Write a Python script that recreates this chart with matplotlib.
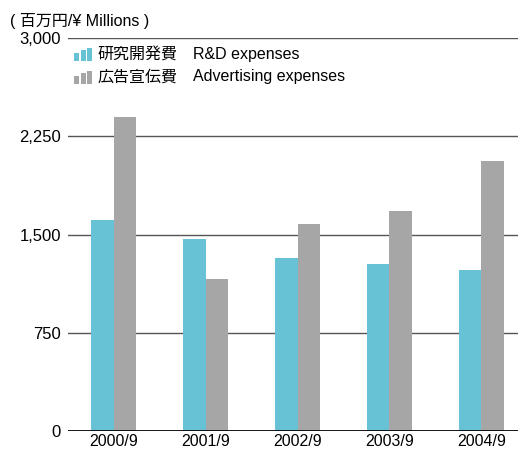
import numpy as np
import matplotlib.pyplot as plt
from matplotlib.patches import Rectangle

plt.rcParams['font.family'] = ['Liberation Sans', 'Noto Sans CJK JP']

years = ['2000/9', '2001/9', '2002/9', '2003/9', '2004/9']
rd_expenses = [1610, 1465, 1320, 1275, 1230]
ad_expenses = [2400, 1160, 1580, 1680, 2060]
yticks = [0, 750, 1500, 2250, 3000]

cyan = '#68c2d6'
grey = '#a6a6a6'

fig = plt.figure(figsize=(5.18, 4.49), dpi=100)
ax = fig.add_axes([68 / 518, 1 - 431 / 449, 1 - 68 / 518, (431 - 38) / 449])

x = np.arange(len(years))
w = 0.245
ax.bar(x - w / 2, rd_expenses, w, color=cyan, zorder=3)
ax.bar(x + w / 2, ad_expenses, w, color=grey, zorder=3)

for t in yticks[1:]:
    ax.axhline(t, color='#555555', lw=1.0, zorder=1)
ax.axhline(0, color='black', lw=2.0, zorder=4)

ax.set_xlim(-0.5, 4.4)
ax.set_ylim(0, 3000)
ax.set_xticks(x)
ax.set_xticklabels(years, fontsize=11.5)
ax.set_yticks(yticks)
ax.set_yticklabels([f'{t:,}' for t in yticks], fontsize=12)
ax.tick_params(length=0, axis='y', pad=5)
ax.tick_params(length=0, axis='x', pad=2)
for s in ax.spines.values():
    s.set_visible(False)

fig.text(10 / 518, 1 - 21 / 449, '( 百万円/¥ Millions )', fontsize=11.5, va='center')

# legend drawn by hand: little three-bar icons and two-part labels
for i, (col, jp, en) in enumerate([(cyan, '研究開発費', 'R&D expenses'),
                                   (grey, '広告宣伝費', 'Advertising expenses')]):
    yc = 54 + i * 23
    yb = yc + 7
    for k, h in enumerate([8, 11, 13]):
        fig.patches.append(Rectangle(((74 + k * 6.5) / 518, 1 - yb / 449), 5 / 518, h / 449,
                                     transform=fig.transFigure, color=col, lw=0))
    fig.text(97 / 518, 1 - yc / 449, jp, fontsize=11.5, va='center')
    fig.text(193 / 518, 1 - yc / 449, en, fontsize=11.5, va='center')

fig.savefig('out.png', dpi=100)
